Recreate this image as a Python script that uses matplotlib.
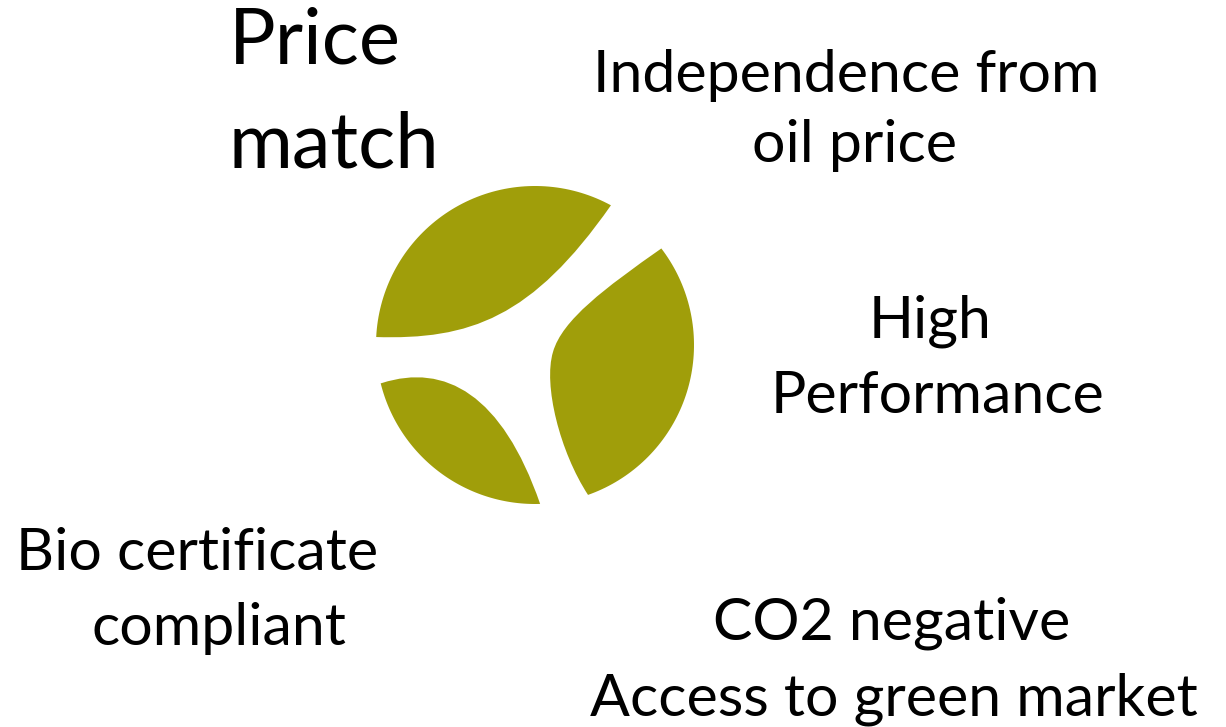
import numpy as np
import matplotlib.pyplot as plt
from matplotlib.path import Path
from matplotlib.patches import PathPatch

# canvas in pixels (y grows downwards like the source image)
W, H = 1226, 727
LOGO_COLOR = "#A09E0A"
FONT = ["Lato", "DejaVu Sans"]

# logo circle
circle_center = np.array([535.0, 345.0])
circle_radius = 159.0

# leaves: outer arc from tip_a to tip_b, then a curved inner edge back to tip_a
top_leaf_tips = [(375, 337), (610, 207)]
top_leaf_inner = [(532, 318), (470, 340), (375, 337)]

low_leaf_tips = [(382, 383), (540, 500)]
low_leaf_inner = [(502, 394), (445, 363), (382, 383)]

right_leaf_tips = [(662, 248), (587, 492)]
right_leaf_inner = [(560, 452), (543, 385), (553, 352),
                    (562, 320), (605, 288), (662, 248)]

# text blocks
label_lines = ["Price", "match",
               "Independence from", "oil price",
               "High", "Performance",
               "Bio certificate", "compliant",
               "CO2 negative", "Access to green market"]
label_x = [229, 229, 846, 855, 930, 937, 197, 219, 892, 894]
label_y = [63, 167, 92, 162, 338, 413, 570, 645, 640, 715]
label_ha = ["left", "left"] + ["center"] * 8
label_size = [56, 56] + [42.5] * 8


def arc_points(p0, p1, clockwise_screen, n=80):
    a0 = np.arctan2(p0[1] - circle_center[1], p0[0] - circle_center[0])
    a1 = np.arctan2(p1[1] - circle_center[1], p1[0] - circle_center[0])
    if clockwise_screen:
        while a1 < a0:
            a1 += 2 * np.pi
    else:
        while a1 > a0:
            a1 -= 2 * np.pi
    ang = np.linspace(a0, a1, n)
    return np.column_stack([circle_center[0] + circle_radius * np.cos(ang),
                            circle_center[1] + circle_radius * np.sin(ang)])


def leaf_path(tips, inner, clockwise_screen):
    arc = arc_points(tips[0], tips[1], clockwise_screen)
    verts = [tuple(arc[0])] + [tuple(p) for p in arc[1:]] + list(inner)
    codes = [Path.MOVETO] + [Path.LINETO] * (len(arc) - 1) + [Path.CURVE4] * len(inner)
    return Path(verts, codes)


fig = plt.figure(figsize=(W / 100, H / 100), dpi=100)
ax = fig.add_axes([0, 0, 1, 1])
ax.set_xlim(0, W)
ax.set_ylim(H, 0)
ax.axis("off")

for tips, inner, cw in [(top_leaf_tips, top_leaf_inner, True),
                        (low_leaf_tips, low_leaf_inner, False),
                        (right_leaf_tips, right_leaf_inner, True)]:
    ax.add_patch(PathPatch(leaf_path(tips, inner, cw), facecolor=LOGO_COLOR,
                           edgecolor="none"))

for txt, x, y, ha, fs in zip(label_lines, label_x, label_y, label_ha, label_size):
    ax.text(x, y, txt, ha=ha, va="baseline", fontsize=fs, family=FONT, color="black")

fig.savefig("out.png", dpi=100, facecolor="white")
